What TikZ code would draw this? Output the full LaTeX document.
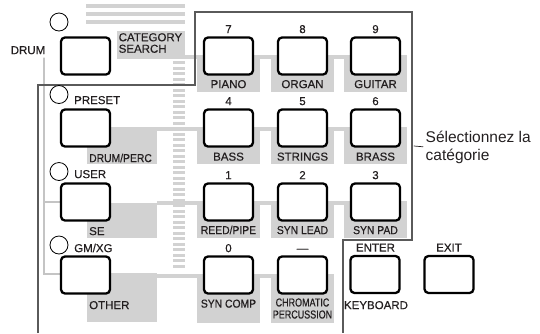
\documentclass[tikz,border=0pt]{standalone}
\usepackage{fontspec}
\setmainfont{Liberation Sans}
\newfontfamily\keyfont[FakeBold=0.45]{Liberation Sans}
\newfontfamily\tightfont[FakeBold=0.45, FakeStretch=0.9]{Liberation Sans}
\newfontfamily\narrowfont[FakeBold=0.45, FakeStretch=0.78]{Liberation Sans}
\definecolor{cink}{HTML}{231f20}
\definecolor{tgray}{HTML}{d2d2d2}
\definecolor{lgray}{HTML}{c4c4c4}
\definecolor{fgray}{HTML}{5a5a5a}

\begin{document}
\begin{tikzpicture}[x=1pt, y=-1pt, line cap=round,
  btn/.style={draw=black, line width=2.3pt, rounded corners=4pt, fill=white,
    minimum width=49pt, minimum height=37pt, inner sep=0pt},
  lamp/.style={draw=black, line width=0.8pt, fill=white, circle,
    minimum size=18pt, inner sep=0pt},
  lbl/.style={font=\keyfont\fontsize{11.5}{13}\selectfont, text=cink,
    inner sep=0pt, text height=8.2pt, text depth=0pt},
  lbln/.style={lbl, font=\tightfont\fontsize{11.5}{13}\selectfont}]
  \useasboundingbox (0,0) rectangle (540,333);
  \def\colL{85.5}
  \def\colA{228.5}
  \def\colB{302.5}
  \def\colC{375.5}
  \def\rowA{56}
  \def\rowB{128}
  \def\rowC{202}
  \def\rowD{275}
  % shading behind the keys
  \foreach \sy in {4,12,20}
    \fill[tgray] (86,\sy) rectangle (185,\sy+4);
  \foreach \sy in {61,66.5,...,266}
    \fill[tgray] (173,\sy) rectangle (185,\sy+3);
  \fill[tgray] (117,31) rectangle (185,58.5);
  \foreach \cy in {\rowA,\rowB,\rowC} {
    \fill[tgray] (157,\cy-1.5) rectangle (\colC+31.5,\cy+2.5);
    \foreach \cx in {\colA,\colB,\colC}
      \fill[tgray] (\cx-31.5,\cy-1.5) rectangle (\cx+31.5,\cy+36);
  }
  \fill[tgray] (157,\rowD-1.5) rectangle (\colB+31.5,\rowD+2.5);
  \fill[tgray] (\colA-31.5,\rowD-1.5) rectangle (\colA+31.5,\rowD+48);
  \fill[tgray] (\colB-31.5,\rowD-1.5) rectangle (\colB+31.5,\rowD+48);
  \fill[tgray] (87,\rowB-1) rectangle (157,\rowB+36);
  \fill[tgray] (87,\rowC+1) rectangle (157,\rowC+36);
  \fill[tgray] (87,\rowD-2) rectangle (157,\rowD+47);
  \draw[lgray, line width=1.2pt] (44,58) -- (44,274) -- (87,274);
  \draw[lgray, line width=1.2pt] (44,\rowC) -- (87,\rowC);
  % bracket round the category keys
  \draw[fgray, line width=1.1pt, line cap=butt]
    (38,333) -- (38,85) -- (195,85) -- (195,12) -- (412,12)
    -- (412,240) -- (343,240) -- (343,333);
  \coordinate (brk) at (414,146);
  % lamps
  \node[lamp] (ldrum) at (59,22) {};
  \node[lamp] (lpreset) at (59,94.5) {};
  \node[lamp] (luser) at (59,171.5) {};
  \node[lamp] (lgmxg) at (59,245) {};
  % keys
  \node[btn] (bdrum) at (\colL,\rowA) {};
  \node[btn] (bpreset) at (\colL,\rowB) {};
  \node[btn] (buser) at (\colL,\rowC) {};
  \node[btn] (bgmxg) at (\colL,\rowD) {};
  \node[btn] (b7) at (\colA,\rowA) {};
  \node[btn] (b8) at (\colB,\rowA) {};
  \node[btn] (b9) at (\colC,\rowA) {};
  \node[btn] (b4) at (\colA,\rowB) {};
  \node[btn] (b5) at (\colB,\rowB) {};
  \node[btn] (b6) at (\colC,\rowB) {};
  \node[btn] (b1) at (\colA,\rowC) {};
  \node[btn] (b2) at (\colB,\rowC) {};
  \node[btn] (b3) at (\colC,\rowC) {};
  \node[btn] (b0) at (\colA,\rowD) {};
  \node[btn] (bminus) at (\colB,\rowD) {};
  \node[btn] (benter) at (375,274.5) {};
  \node[btn] (bexit) at (449,274.5) {};
  % labels
  \node[lbl] (tdrum) at (28,50) {DRUM};
  \node[lbl, text height=, text depth=, anchor=north west, align=left,
    font=\keyfont\fontsize{11.5}{11.5}\selectfont] (tcat) at (118.5,33) {CATEGORY\\SEARCH};
  \node[lbl, anchor=west] (tpreset) at (74,100) {PRESET};
  \node[lbl, anchor=west] (tuser) at (74,174) {USER};
  \node[lbl, anchor=west] (tgmxg) at (74,248) {GM/XG};
  \node[lbln, anchor=west] (tdrumperc) at (89,158) {DRUM/PERC};
  \node[lbl, anchor=west] (tse) at (89,231) {SE};
  \node[lbl, anchor=west] (tother) at (89,305) {OTHER};
  \node[lbl] (n7) at (\colA,\rowA-27) {7};
  \node[lbl] (n8) at (\colB,\rowA-27) {8};
  \node[lbl] (n9) at (\colC,\rowA-27) {9};
  \node[lbl] (n4) at (\colA,\rowB-27) {4};
  \node[lbl] (n5) at (\colB,\rowB-27) {5};
  \node[lbl] (n6) at (\colC,\rowB-27) {6};
  \node[lbl] (n1) at (\colA,\rowC-27) {1};
  \node[lbl] (n2) at (\colB,\rowC-27) {2};
  \node[lbl] (n3) at (\colC,\rowC-27) {3};
  \node[lbl] (n0) at (\colA,\rowD-27) {0};
  \node[lbl] (nminus) at (\colB,\rowD-27) {—};
  \node[lbl] (t7) at (\colA,\rowA+28) {PIANO};
  \node[lbl] (t8) at (\colB,\rowA+28) {ORGAN};
  \node[lbl] (t9) at (\colC,\rowA+28) {GUITAR};
  \node[lbl] (t4) at (\colA,\rowB+28.5) {BASS};
  \node[lbl] (t5) at (\colB,\rowB+28.5) {STRINGS};
  \node[lbl] (t6) at (\colC,\rowB+28.5) {BRASS};
  \node[lbln] (t1) at (\colA,\rowC+28) {REED/PIPE};
  \node[lbln] (t2) at (\colB,\rowC+28) {SYN LEAD};
  \node[lbln] (t3) at (\colC,\rowC+28) {SYN PAD};
  \node[lbln] (t0) at (\colA,\rowD+28.5) {SYN COMP};
  \node[lbl, text height=, text depth=, align=center,
    font=\narrowfont\fontsize{11.5}{12}\selectfont] (tminus) at (\colB,\rowD+33.5) {CHROMATIC\\PERCUSSION};
  \node[lbl] (tenter) at (375.5,247.5) {ENTER};
  \node[lbl] (texit) at (449,247.5) {EXIT};
  \node[lbl] (tkeyb) at (376,305) {KEYBOARD};
  \node[anchor=west, align=left, inner sep=0pt, text=cink,
    font=\fontsize{15.5}{18}\selectfont] (tsel) at (425.5,147) {Sélectionnez la\\catégorie};
  \draw[cink, line width=0.7pt, shorten >=2.5pt] (brk) -- (tsel.west);
\end{tikzpicture}
\end{document}
